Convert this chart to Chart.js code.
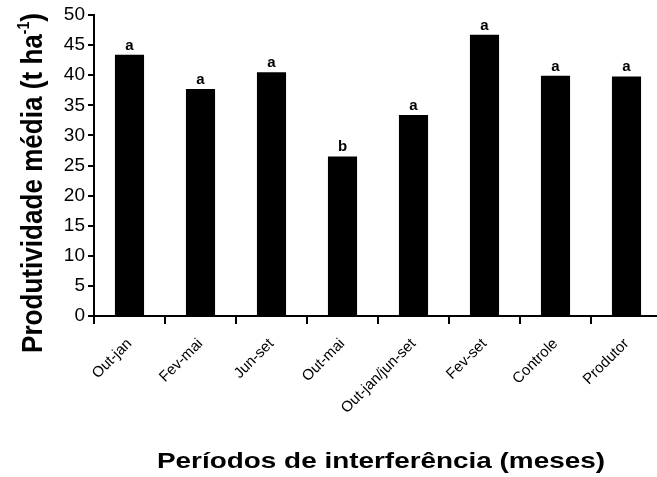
<!DOCTYPE html>
<html lang="pt">
<head>
  <meta charset="UTF-8" />
  <title>Produtividade média</title>
  <script src="https://cdn.jsdelivr.net/npm/chart.js"></script>
  <style>
    body {
      margin: 0;
      background: #fff;
      overflow: hidden;
    }
    canvas {
      display: block;
    }
  </style>
</head>
<body>
  <canvas id="chart" width="664" height="477"></canvas>

  <script>
    const periodos = ['Out-jan', 'Fev-mai', 'Jun-set', 'Out-mai', 'Out-jan/jun-set', 'Fev-set', 'Controle', 'Produtor'];
    const produtividade = [43.4, 37.7, 40.5, 26.5, 33.4, 46.7, 39.9, 39.8];
    const letras = ['a', 'a', 'a', 'b', 'a', 'a', 'a', 'a'];

    const FONT = "'Liberation Sans', Arial, sans-serif";

    // letras de significância acima das barras + títulos dos eixos
    const extras = {
      id: 'extras',
      afterDatasetsDraw(chart) {
        const ctx = chart.ctx;
        const bars = chart.getDatasetMeta(0).data;
        ctx.save();
        ctx.fillStyle = '#000';
        ctx.font = 'bold 15px ' + FONT;
        ctx.textAlign = 'center';
        ctx.textBaseline = 'alphabetic';
        bars.forEach((b, i) => {
          ctx.fillText(letras[i], b.x, b.y - 5);
        });
        ctx.restore();
      },
      afterDraw(chart) {
        const ctx = chart.ctx;
        ctx.save();
        ctx.fillStyle = '#000';
        ctx.textBaseline = 'alphabetic';
        ctx.textAlign = 'left';

        // título eixo x
        const xt = 'Períodos de interferência (meses)';
        ctx.font = 'bold 22px ' + FONT;
        const wx = ctx.measureText(xt).width;
        ctx.save();
        ctx.translate(381, 468);
        ctx.scale(448 / wx, 1);
        ctx.fillText(xt, -wx / 2, 0);
        ctx.restore();

        // título eixo y (com sobrescrito)
        const p1 = 'Produtividade média (t ha';
        const sup = '-1';
        const p2 = ')';
        ctx.font = 'bold 26px ' + FONT;
        const w1 = ctx.measureText(p1).width;
        const w3 = ctx.measureText(p2).width;
        ctx.font = 'bold 14px ' + FONT;
        const w2 = ctx.measureText(sup).width;
        const total = w1 + w2 + w3;
        ctx.save();
        ctx.translate(42, 183);
        ctx.rotate(-Math.PI / 2);
        ctx.scale(340 / total, 1.15);
        let x = -total / 2;
        ctx.font = 'bold 26px ' + FONT;
        ctx.fillText(p1, x, 0);
        x += w1;
        ctx.font = 'bold 14px ' + FONT;
        ctx.fillText(sup, x, -11);
        x += w2;
        ctx.font = 'bold 26px ' + FONT;
        ctx.fillText(p2, x, 0);
        ctx.restore();

        ctx.restore();
      }
    };

    new Chart(document.getElementById('chart'), {
      type: 'bar',
      data: {
        labels: periodos,
        datasets: [{
          data: produtividade,
          backgroundColor: '#000',
          borderWidth: 0,
          categoryPercentage: 1,
          barPercentage: 0.41
        }]
      },
      options: {
        responsive: false,
        animation: false,
        layout: { padding: { top: 15, right: 2, left: 0, bottom: 0 } },
        plugins: {
          legend: { display: false },
          tooltip: { enabled: false }
        },
        scales: {
          x: {
            offset: true,
            afterFit: s => { s.height = 161; },
            grid: {
              offset: true,
              drawOnChartArea: false,
              color: '#000',
              lineWidth: 2,
              tickLength: 8
            },
            border: { color: '#000', width: 2 },
            ticks: {
              color: '#000',
              font: { family: FONT, size: 15 },
              maxRotation: 45,
              minRotation: 45,
              padding: 11
            }
          },
          y: {
            min: 0,
            max: 50,
            afterFit: s => { s.width = 94; },
            grid: {
              drawOnChartArea: false,
              color: '#000',
              lineWidth: 2,
              tickLength: 6
            },
            border: { color: '#000', width: 2 },
            ticks: {
              stepSize: 5,
              color: '#000',
              font: { family: FONT, size: 19 },
              padding: 3
            }
          }
        }
      },
      plugins: [extras]
    });
  </script>
</body>
</html>
